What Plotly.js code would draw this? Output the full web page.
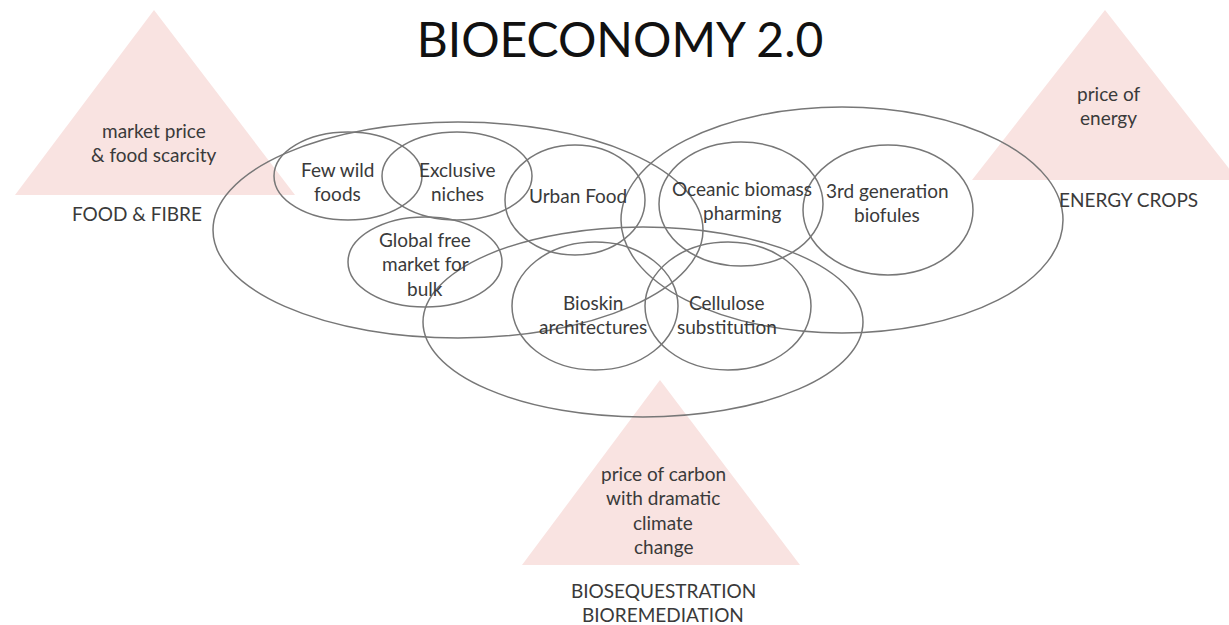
<!DOCTYPE html>
<html>
<head>
<meta charset="utf-8">
<script src="https://cdn.plot.ly/plotly-3.0.1.min.js"></script>
<style>html,body{margin:0;padding:0;background:#fff;}#chart{width:1229px;height:625px;}</style>
</head>
<body>
<div id="chart"></div>
<script>
// ---- Data ----
const titleText = "BIOECONOMY 2.0";

// Driver triangles (pink): apex x, apex y, base y, base left x, base right x
const triNames   = ["FOOD & FIBRE", "ENERGY CROPS", "BIOSEQUESTRATION"];
const triApexX   = [154, 1105, 660];
const triApexY   = [10, 10, 380];
const triBaseY   = [195, 180, 565];
const triBaseL   = [15, 972, 522];
const triBaseR   = [295, 1238, 800];

// Driver texts inside triangles (lines), first-line centre
const driverText = [["market price", "& food scarcity"], ["price of", "energy"],
                    ["price of carbon", "with dramatic", "climate", "change"]];
const driverX    = [154, 1108, 663];
const driverY    = [130, 93, 473];

// Sector labels under triangles
const sectorText = [["FOOD & FIBRE"], ["ENERGY CROPS"], ["BIOSEQUESTRATION", "BIOREMEDIATION"]];
const sectorX    = [137, 1128, 663];
const sectorY    = [213, 199, 590];

// Domain ellipses (large): centre x, centre y, radius x, radius y
const bigCX = [458, 842, 643];
const bigCY = [230, 220, 322];
const bigRX = [245, 221, 220];
const bigRY = [108, 113, 95];

// Niche ellipses (small)
const nicheLabels = [["Few wild", "foods"], ["Exclusive", "niches"], ["Global free", "market for", "bulk"], ["Urban Food"],
                     ["Oceanic biomass", "pharming"], ["3rd generation", "biofules"], ["Bioskin", "architectures"], ["Cellulose", "substitution"]];
const nicheCX = [348, 457, 425, 575, 741, 888, 595, 728];
const nicheCY = [176, 176, 262, 200, 204, 210, 306, 306];
const nicheRX = [74, 75, 77, 70, 82, 85, 83, 83];
const nicheRY = [44, 44, 45, 55, 62, 65, 64, 64];
const labelX  = [337, 457, 425, 578, 742, 887, 593, 727];
const labelY  = [169, 169, 239, 195, 188, 190, 302, 302];

// ---- Build ----
const pink = "#f9e3e1";
const lineCol = "#777777";
const textCol = "#3a3a3a";
const font = "Lato, 'Open Sans', sans-serif";
const lineGap = 24.5;
const labelSize = 19;

const shapes = [];
for (let i = 0; i < triNames.length; i++) {
  shapes.push({
    type: "path", xref: "x", yref: "y", layer: "below",
    path: `M ${triBaseL[i]} ${triBaseY[i]} L ${triApexX[i]} ${triApexY[i]} L ${triBaseR[i]} ${triBaseY[i]} Z`,
    fillcolor: pink, line: {width: 0}
  });
}
function ell(cx, cy, rx, ry) {
  return {type: "circle", xref: "x", yref: "y", x0: cx - rx, x1: cx + rx, y0: cy - ry, y1: cy + ry,
          line: {color: lineCol, width: 1.5}, fillcolor: "rgba(0,0,0,0)", layer: "above"};
}
for (let i = 0; i < bigCX.length; i++) shapes.push(ell(bigCX[i], bigCY[i], bigRX[i], bigRY[i]));
for (let i = 0; i < nicheCX.length; i++) shapes.push(ell(nicheCX[i], nicheCY[i], nicheRX[i], nicheRY[i]));

const annotations = [];
function ann(lines, x, y, size) {
  lines.forEach((t, k) => {
    annotations.push({text: t, x: x, y: y + k * lineGap, xref: "x", yref: "y", showarrow: false,
      xanchor: "center", yanchor: "middle", align: "center",
      font: {family: font, size: size, color: textCol}});
  });
}
for (let i = 0; i < nicheLabels.length; i++) ann(nicheLabels[i], labelX[i], labelY[i], labelSize);
for (let i = 0; i < driverText.length; i++) ann(driverText[i], driverX[i], driverY[i], labelSize);
for (let i = 0; i < sectorText.length; i++) ann(sectorText[i], sectorX[i], sectorY[i], labelSize);

const layout = {
  width: 1229, height: 625,
  margin: {l: 0, r: 0, t: 0, b: 0},
  paper_bgcolor: "#ffffff", plot_bgcolor: "#ffffff",
  showlegend: false,
  title: {text: titleText, x: 620 / 1229, xanchor: "center", y: 1 - 40 / 625, yanchor: "middle",
          font: {family: font, size: 48, color: "#111111"}},
  xaxis: {range: [0, 1229], visible: false, fixedrange: true},
  yaxis: {range: [625, 0], visible: false, fixedrange: true},
  shapes: shapes,
  annotations: annotations
};

Plotly.newPlot("chart", [{x: [], y: [], type: "scatter", mode: "markers", hoverinfo: "skip"}], layout,
  {displayModeBar: false, staticPlot: true});
</script>
</body>
</html>
